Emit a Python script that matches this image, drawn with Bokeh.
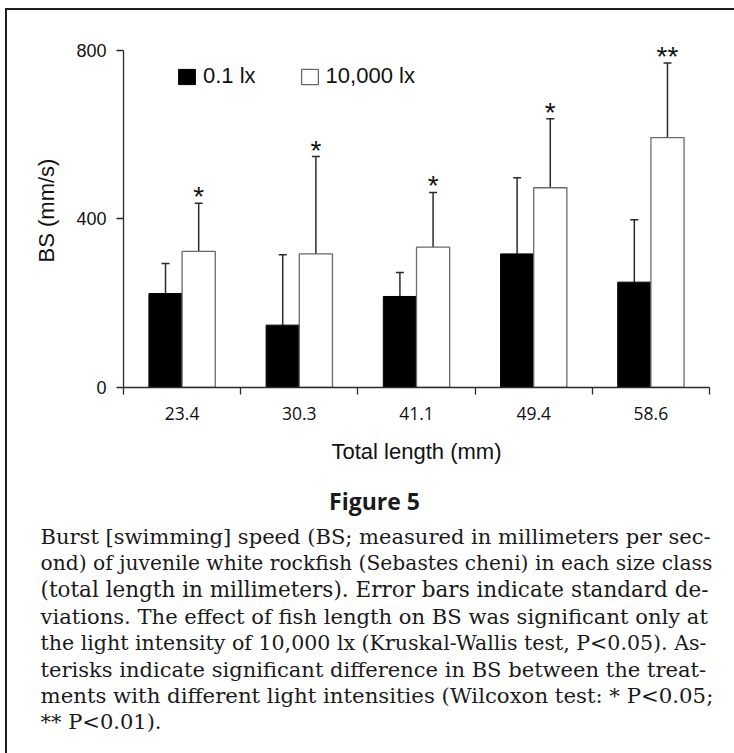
import numpy as np
from bokeh.plotting import figure
from bokeh.layouts import column
from bokeh.models import (Range1d, FixedTicker, LinearAxis, ColumnDataSource, Whisker,
                          TeeHead, LabelSet, Legend, LegendItem)
from bokeh.core.properties import value
from bokeh.embed import file_html
from bokeh.resources import INLINE

# ---------------- data ----------------
categories = ["23.4", "30.3", "41.1", "49.4", "58.6"]
bs_low = [223, 148, 216, 317, 250]        # 0.1 lx mean BS (mm/s)
sd_low = [71, 167, 57, 181, 148]          # 0.1 lx SD
bs_high = [323, 317, 333, 474, 593]       # 10,000 lx mean BS (mm/s)
sd_high = [114, 231, 130, 164, 177]       # 10,000 lx SD
significance = ["*", "*", "*", "*", "**"]
y_ticks = [0, 400, 800]
legend_labels = ["0.1 lx", "10,000 lx"]
x_title = "Total length (mm)"
y_title = "BS (mm/s)"
fig_label = "Figure 5"
caption_lines = [
    "Burst [swimming] speed (BS; measured in millimeters per sec-",
    "ond) of juvenile white rockfish (Sebastes cheni) in each size class",
    "(total length in millimeters). Error bars indicate standard de-",
    "viations. The effect of fish length on BS was significant only at",
    "the light intensity of 10,000 lx (Kruskal-Wallis test, P<0.05). As-",
    "terisks indicate significant difference in BS between the treat-",
    "ments with different light intensities (Wilcoxon test: * P<0.05;",
    "** P<0.01).",
]
# per-line font sizes so that the justified lines fill the same width
caption_sizes = ["21.05px", "20.25px", "21.5px", "21.1px", "20.55px", "21.05px", "21.25px", "21px"]

# ---------------- layout constants ----------------
W = 734
H1 = 470            # chart part
H2 = 753 - H1       # caption part
LEFT, TOP, RIGHT, BOTTOM = 123, 33, 25, 83
n = len(categories)
YTOP = 840           # room above 800 for the asterisks
BAR_W = 0.283
AX = "#2b2b2b"

idx = np.arange(n)
x_low = idx + 0.5 - BAR_W / 2
x_high = idx + 0.5 + BAR_W / 2
src = ColumnDataSource(dict(
    x_low=x_low, x_high=x_high,
    low=bs_low, high=bs_high,
    low_top=np.array(bs_low) + np.array(sd_low),
    high_top=np.array(bs_high) + np.array(sd_high),
    sig=significance,
))

p1 = figure(width=W, height=H1, output_backend="svg", toolbar_location=None,
            x_range=Range1d(0, n), y_range=Range1d(0, YTOP),
            min_border_left=LEFT, min_border_right=RIGHT,
            min_border_top=TOP, min_border_bottom=BOTTOM,
            x_axis_type=None, y_axis_type=None)
p1.outline_line_color = None
p1.background_fill_color = "white"
p1.border_fill_color = "white"

# bars
r_low = p1.vbar(x="x_low", top="low", bottom=0, width=BAR_W, source=src,
                fill_color="black", line_color="black", line_width=1)
r_high = p1.vbar(x="x_high", top="high", bottom=0, width=BAR_W, source=src,
                 fill_color="white", line_color="#6a6a6a", line_width=1.3)

# error bars (upper only)
for xcol, lo, up in (("x_low", "low", "low_top"), ("x_high", "high", "high_top")):
    w = Whisker(base=xcol, lower=lo, upper=up, source=src, dimension="height",
                lower_head=None,
                upper_head=TeeHead(size=8, line_color=AX, line_width=1.5),
                line_color=AX, line_width=1.5)
    p1.add_layout(w)

# significance asterisks
stars = LabelSet(x="x_high", y="high_top", text="sig", source=src,
                 text_align="center", text_baseline="alphabetic", y_offset=-3,
                 text_font=value("Liberation Sans"), text_font_size="28px",
                 text_color="#111111")
p1.add_layout(stars)

# axes
xaxis = LinearAxis(
    ticker=FixedTicker(ticks=list(idx + 0.5), minor_ticks=list(range(n + 1))),
    major_label_overrides={float(i + 0.5): c for i, c in enumerate(categories)},
    axis_label=x_title,
)
xaxis.axis_line_color = AX
xaxis.axis_line_width = 1.3
xaxis.major_tick_out = 0
xaxis.major_tick_in = 0
xaxis.minor_tick_out = 7
xaxis.minor_tick_in = 0
xaxis.minor_tick_line_color = AX
xaxis.minor_tick_line_width = 1.3
xaxis.major_label_text_font = "Open Sans"
xaxis.major_label_text_font_size = "17.5px"
xaxis.major_label_text_color = "#111111"
xaxis.major_label_standoff = 12
xaxis.axis_label_text_font = "Liberation Sans"
xaxis.axis_label_text_font_size = "22px"
xaxis.axis_label_text_font_style = "normal"
xaxis.axis_label_text_color = "#111111"
xaxis.axis_label_standoff = 16
p1.add_layout(xaxis, "below")

yaxis = LinearAxis(ticker=FixedTicker(ticks=y_ticks, minor_ticks=[]), axis_label=y_title,
                   bounds=(y_ticks[0], y_ticks[-1]))
yaxis.axis_line_color = AX
yaxis.axis_line_width = 1.3
yaxis.major_tick_out = 7
yaxis.major_tick_in = 0
yaxis.major_tick_line_color = AX
yaxis.major_tick_line_width = 1.3
yaxis.major_label_text_font = "Liberation Sans"
yaxis.major_label_text_font_size = "18px"
yaxis.major_label_text_color = "#111111"
yaxis.major_label_standoff = 10
yaxis.axis_label_text_font = "Liberation Sans"
yaxis.axis_label_text_font_size = "22px"
yaxis.axis_label_text_font_style = "normal"
yaxis.axis_label_text_color = "#111111"
yaxis.axis_label_standoff = 14
p1.add_layout(yaxis, "left")

# legend
legend = Legend(
    items=[LegendItem(label=legend_labels[0], renderers=[r_low]),
           LegendItem(label=legend_labels[1], renderers=[r_high])],
    orientation="horizontal", location=(53, 298),
    padding=0, margin=0, spacing=43, glyph_width=21, glyph_height=19,
    label_standoff=6, label_text_font="Liberation Sans", label_text_font_size="22px",
    label_text_color="#111111", background_fill_alpha=0, border_line_alpha=0,
)
p1.add_layout(legend, "center")

# ---------------- caption panel (pixel coordinates, y downward) ----------------
p2 = figure(width=W, height=H2, output_backend="svg", toolbar_location=None,
            x_range=Range1d(0, W), y_range=Range1d(H2, 0),
            min_border=0, x_axis_type=None, y_axis_type=None)
p2.outline_line_color = None
p2.background_fill_color = "white"
p2.border_fill_color = "white"
for fig in (p1, p2):
    if "frame_align" in fig.properties():
        fig.frame_align = False

p2.text(x=[374], y=[500 - H1], text=[fig_label], text_align="center",
        text_baseline="alphabetic", text_font=value("Open Sans"),
        text_font_style="bold", text_font_size="23px", text_color="#1a1a1a")
cap_src = ColumnDataSource(dict(
    x=[40] * len(caption_lines),
    y=[536 - H1 + i * 26.5 for i in range(len(caption_lines))],
    text=caption_lines,
    fs=caption_sizes,
))
p2.text(x="x", y="y", text="text", source=cap_src, text_align="left",
        text_baseline="alphabetic", text_font=value("DejaVu Serif"),
        text_font_size="fs", text_color="#1a1a1a")

layout = column(p1, p2, spacing=0)

html = file_html(layout, INLINE, title="Figure 5")
frame_div = ('<div style="position:fixed;left:5px;top:8px;width:800px;height:800px;'
             'border-left:2.5px solid #1e1e1e;border-top:2px solid #1e1e1e;'
             'pointer-events:none;"></div>')
html = html.replace("</body>", frame_div + "</body>")
open("out.html", "w").write(html)
